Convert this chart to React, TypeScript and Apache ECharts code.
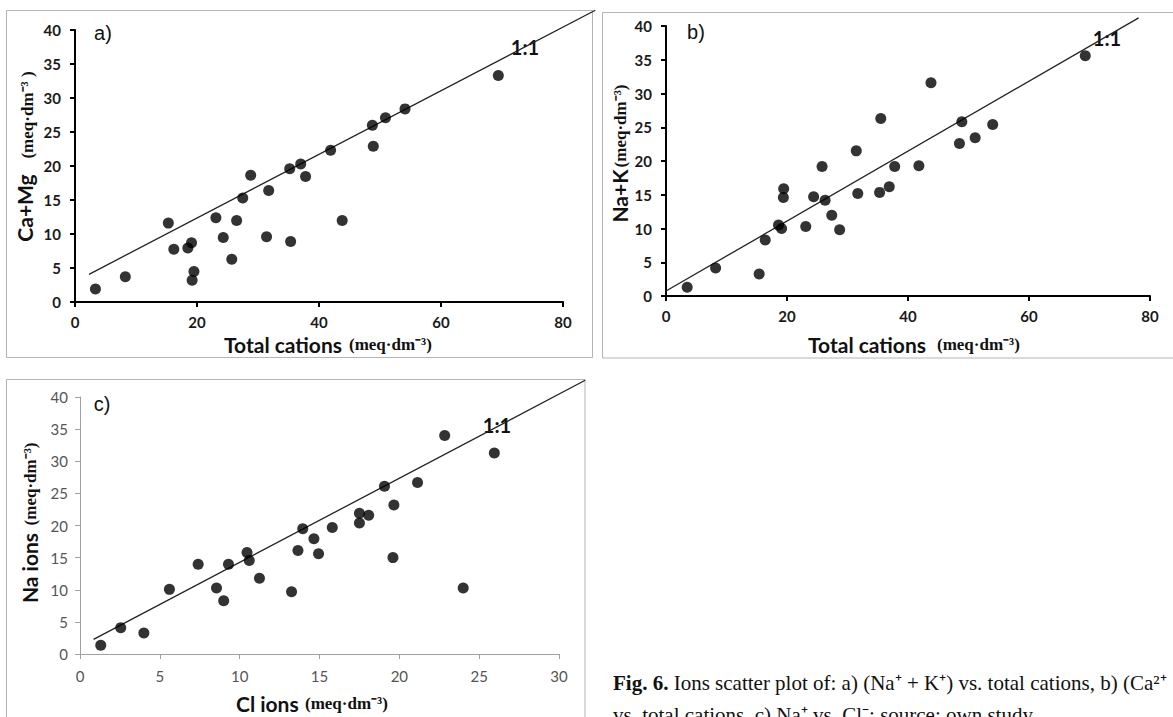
import React, { useEffect, useRef } from "react";
import * as echarts from "echarts";

// Panel a: Ca+Mg vs total cations
const A_X = [3.35, 8.25, 15.3, 16.2, 18.5, 19.1, 19.5, 19.2, 23.1, 24.3, 25.7, 26.5, 27.5, 28.8, 31.4, 31.75, 35.2, 35.35, 37.0, 37.8, 41.9, 43.8, 48.75, 48.9, 50.9, 54.1, 69.4];
const A_Y = [1.9, 3.7, 11.6, 7.75, 7.95, 8.7, 4.5, 3.2, 12.4, 9.5, 6.3, 12.0, 15.3, 18.65, 9.6, 16.4, 19.6, 8.9, 20.3, 18.45, 22.3, 12.0, 26.0, 22.9, 27.1, 28.4, 33.3];
// Panel b: Na+K vs total cations
const B_X = [3.5, 8.2, 15.4, 16.4, 18.6, 19.1, 19.4, 19.45, 23.1, 24.4, 25.8, 26.3, 27.4, 28.7, 31.45, 31.7, 35.3, 35.5, 36.9, 37.8, 41.8, 43.8, 48.5, 48.9, 51.1, 54.0, 69.3];
const B_Y = [1.28, 4.15, 3.26, 8.3, 10.5, 10.0, 14.6, 15.9, 10.3, 14.7, 19.2, 14.2, 11.95, 9.8, 21.5, 15.2, 15.35, 26.3, 16.2, 19.2, 19.3, 31.6, 22.6, 25.8, 23.45, 25.4, 35.6];
// Panel c: Na ions vs Cl ions
const C_X = [1.3, 2.55, 4.0, 5.6, 7.4, 8.55, 9.0, 9.3, 10.46, 10.6, 11.24, 13.25, 13.65, 13.95, 14.65, 14.94, 15.8, 17.5, 17.5, 18.08, 19.07, 19.66, 19.6, 21.14, 22.84, 24.0, 25.95];
const C_Y = [1.35, 4.1, 3.27, 10.06, 13.96, 10.27, 8.3, 13.96, 15.8, 14.55, 11.8, 9.7, 16.1, 19.5, 17.95, 15.6, 19.7, 20.4, 21.9, 21.6, 26.1, 23.2, 15.0, 26.7, 34.0, 10.27, 31.3];
// "1:1" reference lines (end points)
const A_LINE = [[2.3, 4.07], [85.3, 42.9]];
const B_LINE = [[0, 0.74], [83.9, 41.2]];
const C_LINE = [[0.85, 2.28], [31.64, 42.6]];

const AB_X_TICKS = { min: 0, max: 80, interval: 20 };
const C_X_TICKS = { min: 0, max: 30, interval: 5 };
const Y_TICKS = { min: 0, max: 40, interval: 5 };

const UNIT = "(meq·dm⁻³)";
const UNIT_A = "(meq·dm⁻³ )";
const CAPTION_1 = "Ions scatter plot of: a) (Na⁺ + K⁺) vs. total cations, b) (Ca²⁺";
const CAPTION_2 = "vs. total cations, c) Na⁺ vs. Cl⁻; source: own study.";

const SANS = "Lato";
const SERIF = "Liberation Serif";

// plot areas (px) of the three panels
const GA = { left: 75, top: 30, width: 488, height: 272 };
const GB = { left: 666, top: 26, width: 484, height: 270 };
const GC = { left: 80, top: 397, width: 479, height: 257 };

const zip = (xs: number[], ys: number[]) => xs.map((x, i) => [x, ys[i]]);

function boldAxis(gridIndex: number, ticks: any, margin: number) {
  return {
    type: "value",
    gridIndex,
    ...ticks,
    splitLine: { show: false },
    axisLine: { show: true, onZero: false, lineStyle: { color: "#000", width: 2 } },
    axisTick: { show: true, inside: false, length: 5, lineStyle: { color: "#000", width: 2 } },
    axisLabel: {
      margin,
      fontFamily: SANS,
      fontWeight: "bold",
      fontSize: 15,
      color: "#1a1a1a",
    },
  };
}

function lightAxis(gridIndex: number, ticks: any, margin: number) {
  return {
    type: "value",
    gridIndex,
    ...ticks,
    splitLine: { show: false },
    axisLine: { show: true, onZero: false, lineStyle: { color: "#a0a0a0", width: 1 } },
    axisTick: { show: true, inside: false, length: 5, lineStyle: { color: "#a0a0a0", width: 1 } },
    axisLabel: {
      margin,
      fontFamily: SANS,
      fontSize: 15,
      color: "#555",
    },
  };
}

function hiddenAxis(gridIndex: number, max: number) {
  return { type: "value", gridIndex, min: 0, max, show: false, splitLine: { show: false } };
}

// hidden grid with the same scale as a panel's grid, extended so the 1:1 line can run to the frame
function extGrid(g: any, xMax: number, xExt: number, yMax: number, yExt: number) {
  const width = (g.width * xExt) / xMax;
  const height = (g.height * yExt) / yMax;
  return { left: g.left, top: g.top + g.height - height, width, height };
}

function txt(text: string, x: number, y: number, font: string, opts: any = {}) {
  return {
    type: "text",
    x,
    y,
    rotation: opts.rotation || 0,
    silent: true,
    style: {
      text,
      font,
      fill: opts.fill || "#111",
      align: opts.align || "center",
      verticalAlign: opts.verticalAlign || "middle",
      textAlign: opts.align || "center",
      textVerticalAlign: opts.verticalAlign || "middle",
    },
  };
}

function frame(x: number, y: number, w: number, h: number) {
  return {
    type: "rect",
    silent: true,
    z: -10,
    shape: { x, y, width: w, height: h },
    style: { fill: "none", stroke: "#b4b4b4", lineWidth: 1 },
  };
}

export default function App() {
  const ref = useRef<HTMLDivElement>(null);
  useEffect(() => {
    if (!ref.current) return;
    const chart = echarts.init(ref.current, undefined, { renderer: "svg" });
    const dot = { symbol: "circle", symbolSize: 11, itemStyle: { color: "#000" } };
    const line = (data: number[][], i: number) => ({
      type: "line",
      xAxisIndex: i,
      yAxisIndex: i,
      data,
      symbol: "none",
      clip: false,
      silent: true,
      lineStyle: { color: "#222", width: 1.3 },
      z: 1,
    });
    const V90 = Math.PI / 2;
    const option: any = {
      animation: false,
      backgroundColor: "#fff",
      grid: [
        GA,
        GB,
        GC,
        extGrid(GA, 80, 90, 40, 44),
        extGrid(GB, 80, 90, 40, 43),
        extGrid(GC, 30, 35, 40, 45),
      ],
      xAxis: [
        boldAxis(0, AB_X_TICKS, 12),
        boldAxis(1, AB_X_TICKS, 12),
        lightAxis(2, C_X_TICKS, 14),
        hiddenAxis(3, 90),
        hiddenAxis(4, 90),
        hiddenAxis(5, 35),
      ],
      yAxis: [
        boldAxis(0, Y_TICKS, 14),
        boldAxis(1, Y_TICKS, 14),
        lightAxis(2, Y_TICKS, 12),
        hiddenAxis(3, 44),
        hiddenAxis(4, 43),
        hiddenAxis(5, 45),
      ],
      series: [
        line(A_LINE, 3),
        line(B_LINE, 4),
        line(C_LINE, 5),
        { type: "scatter", xAxisIndex: 0, yAxisIndex: 0, data: zip(A_X, A_Y), z: 3, ...dot },
        { type: "scatter", xAxisIndex: 1, yAxisIndex: 1, data: zip(B_X, B_Y), z: 3, ...dot },
        { type: "scatter", xAxisIndex: 2, yAxisIndex: 2, data: zip(C_X, C_Y), z: 3, ...dot },
      ],
      graphic: [
        frame(6.5, 10.5, 586, 347),
        frame(602.5, 12.5, 590, 345.5),
        frame(6.5, 379.5, 578.5, 360),
        // panel labels
        txt("a)", 103, 33, `20px "Liberation Sans"`),
        txt("b)", 696, 32, `20px "Liberation Sans"`),
        txt("c)", 102, 404, `20px "Liberation Sans"`),
        // 1:1 labels
        txt("1:1", 525, 47, `bold 20px ${SANS}`),
        txt("1:1", 1107, 38, `bold 20px ${SANS}`),
        txt("1:1", 497, 425, `bold 20px ${SANS}`),
        // y titles
        txt("Ca+Mg", 24, 208, `bold 21px ${SANS}`, { rotation: V90 }),
        txt(UNIT_A, 27, 115, `bold 17px "${SERIF}"`, { rotation: V90 }),
        txt("Na+K", 619, 196, `bold 21px ${SANS}`, { rotation: V90 }),
        txt(UNIT, 620, 126, `bold 17px "${SERIF}"`, { rotation: V90 }),
        txt("Na ions", 29, 568, `bold 21px ${SANS}`, { rotation: V90 }),
        txt(UNIT, 30, 484, `bold 17px "${SERIF}"`, { rotation: V90 }),
        // x titles
        txt("Total cations", 224, 344, `bold 21px ${SANS}`, { align: "left" }),
        txt(UNIT, 349, 344, `bold 17px "${SERIF}"`, { align: "left" }),
        txt("Total cations", 808, 344, `bold 21px ${SANS}`, { align: "left" }),
        txt(UNIT, 937, 344, `bold 17px "${SERIF}"`, { align: "left" }),
        txt("Cl ions", 236, 703, `bold 21px ${SANS}`, { align: "left" }),
        txt(UNIT, 305, 703, `bold 17px "${SERIF}"`, { align: "left" }),
        // caption
        {
          type: "text",
          x: 613,
          y: 693,
          silent: true,
          style: {
            text: "{b|Fig. 6.} " + CAPTION_1,
            font: `21px "${SERIF}"`,
            fill: "#111",
            align: "left",
            verticalAlign: "bottom",
            rich: { b: { fontWeight: "bold", fontFamily: SERIF, fontSize: 21 } },
          },
        },
        txt(CAPTION_2, 613, 725, `21px "${SERIF}"`, { align: "left", verticalAlign: "bottom" }),
      ],
    };
    chart.setOption(option);
    return () => chart.dispose();
  }, []);
  return (
    <div
      ref={ref}
      style={{ position: "absolute", left: 0, top: 0, width: 1173, height: 717, background: "#fff" }}
    />
  );
}
